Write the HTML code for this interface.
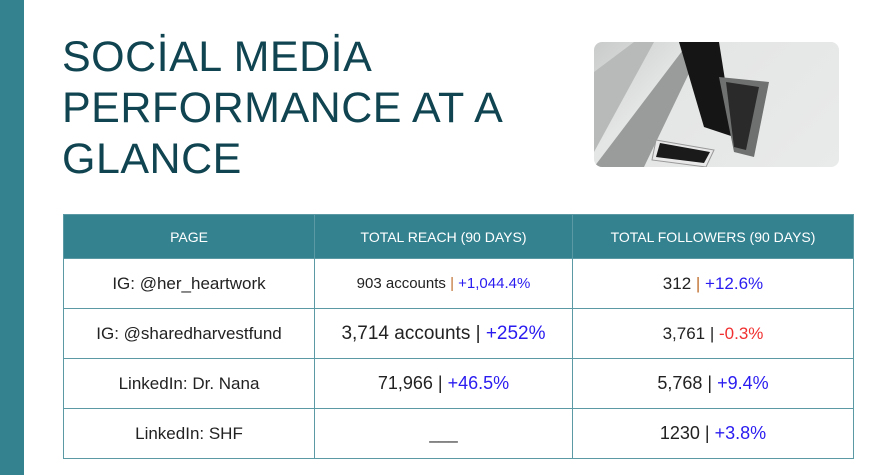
<!DOCTYPE html>
<html><head><style>
body{margin:0;width:887px;height:475px;background:#fff;position:relative;overflow:hidden;font-family:"Liberation Sans",sans-serif}
.side{position:absolute;left:0;top:0;width:24px;height:475px;background:#348290}
.title{position:absolute;left:62px;top:32px;color:#0f4450;font-size:43px;line-height:51px;letter-spacing:0.5px;white-space:nowrap}
.img{position:absolute;left:594px;top:42px;width:245px;height:125px;border-radius:8px;overflow:hidden;background:linear-gradient(135deg,#c9caca 0%,#e4e5e5 30%,#e9eaea 100%)}
table{position:absolute;left:63px;top:214px;border-collapse:collapse;width:791px;table-layout:fixed}
td,th{border:1px solid #5b9aa5;text-align:center;color:#222;font-weight:normal;padding:0}
th{background:#348290;color:#fff;height:43px;font-size:14px}
td{height:49px;font-size:17px}
.b{color:#2a1cf0}.r{color:#f03030}.o{color:#c07030}
</style></head><body>
<div class="side"></div>
<div class="title">SOCİAL MEDİA<br>PERFORMANCE AT A<br>GLANCE</div>
<div class="img">
<svg width="245" height="125">
<polygon points="0,30 40,0 60,0 0,110" fill="#b8baba"/>
<polygon points="0,125 50,125 110,0 95,0" fill="#9a9c9c"/>
<polygon points="85,0 125,0 140,95 110,85" fill="#151515"/>
<polygon points="125,35 175,40 160,115 140,110" fill="#6f7070"/>
<polygon points="132,40 165,45 152,108 140,105" fill="#2a2a2a"/>
<polygon points="62,98 120,108 112,125 58,118" fill="#e8e8e8" stroke="#999"/>
<polygon points="66,101 116,110 110,121 62,115" fill="#1a1a1a"/>
</svg></div>
<table>
<colgroup><col style="width:251px"><col style="width:258px"><col></colgroup>
<tr><th>PAGE</th><th>TOTAL REACH (90 DAYS)</th><th>TOTAL FOLLOWERS (90 DAYS)</th></tr>
<tr><td>IG: @her_heartwork</td><td style="font-size:15px">903 accounts <span class="o">|</span> <span class="b">+1,044.4%</span></td><td>312 <span class="o">|</span> <span class="b">+12.6%</span></td></tr>
<tr><td>IG: @sharedharvestfund</td><td style="font-size:19px">3,714 accounts | <span class="b">+252%</span></td><td>3,761 | <span class="r">-0.3%</span></td></tr>
<tr><td>LinkedIn: Dr. Nana</td><td style="font-size:18px">71,966 | <span class="b">+46.5%</span></td><td style="font-size:18px">5,768 | <span class="b">+9.4%</span></td></tr>
<tr><td>LinkedIn: SHF</td><td>___</td><td style="font-size:18px">1230 | <span class="b">+3.8%</span></td></tr>
</table>
</body></html>
